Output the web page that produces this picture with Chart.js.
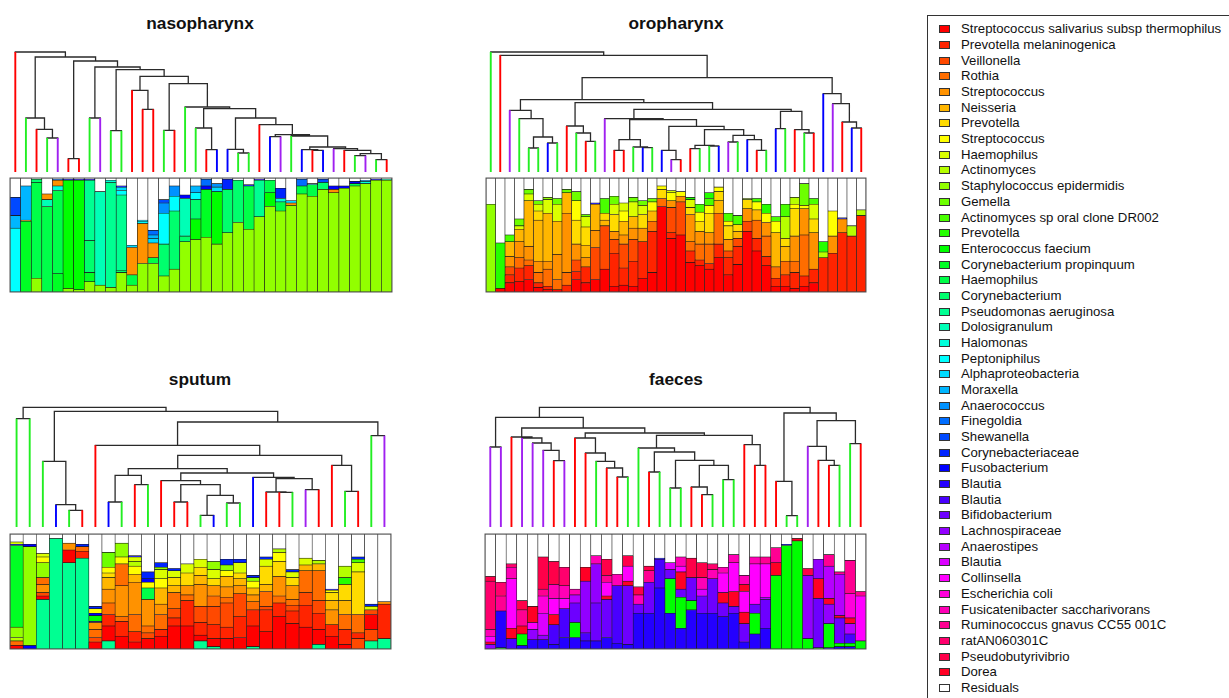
<!DOCTYPE html>
<html>
<head>
<meta charset="utf-8">
<script src="https://cdn.jsdelivr.net/npm/chart.js@4.4.1/dist/chart.umd.min.js"></script>
<style>
  body { margin: 0; background: #fff; width: 1229px; height: 698px; overflow: hidden; position: relative;
         font-family: "Liberation Sans", Arial, sans-serif; color: #111; }
  .title { position: absolute; font-weight: bold; font-size: 17.3px; transform: translate(-50%, -50%); white-space: nowrap; }
  #legend { position: absolute; left: 927px; top: 15px; width: 420px; height: 720px; border: 1px solid #333; box-sizing: border-box; }
  .item { position: absolute; left: 0; height: 16px; line-height: 16px; font-size: 13.2px; white-space: nowrap; }
  .sw { position: absolute; left: 11px; top: 4px; width: 11px; height: 8px; border: 1px solid #333; box-sizing: border-box; }
  .lab { position: absolute; left: 33px; top: 0; }
</style>
</head>
<body>
<div class="title" style="left:200px;top:23px">nasopharynx</div>
<div class="title" style="left:676px;top:23px">oropharynx</div>
<div class="title" style="left:200px;top:379px">sputum</div>
<div class="title" style="left:676px;top:379px">faeces</div>
<div id="legend"></div>

<script>
// --- TAXA (legend order, rainbow palette) ---
const taxa = [
  "Streptococcus salivarius subsp thermophilus", "Prevotella melaninogenica", "Veillonella", "Rothia",
  "Streptococcus", "Neisseria", "Prevotella", "Streptococcus", "Haemophilus", "Actinomyces",
  "Staphylococcus epidermidis", "Gemella", "Actinomyces sp oral clone DR002", "Prevotella",
  "Enterococcus faecium", "Corynebacterium propinquum", "Haemophilus", "Corynebacterium",
  "Pseudomonas aeruginosa", "Dolosigranulum", "Halomonas", "Peptoniphilus", "Alphaproteobacteria",
  "Moraxella", "Anaerococcus", "Finegoldia", "Shewanella", "Corynebacteriaceae", "Fusobacterium",
  "Blautia", "Blautia", "Bifidobacterium", "Lachnospiraceae", "Anaerostipes", "Blautia", "Collinsella",
  "Escherichia coli", "Fusicatenibacter saccharivorans", "Ruminococcus gnavus CC55 001C",
  "ratAN060301C", "Pseudobutyrivibrio", "Dorea"
];
const residualLabel = "Residuals";

// leaf colour groups
const groupColors = { r: '#FF0000', g: '#22EE22', p: '#A020F0', b: '#0000FF' };

// =========================================================
// NASOPHARYNX
// =========================================================
const nasoLeaves = "rgrgprrgpggrrrgrggrbbggrbpgbrbprgpgr";
// hclust style merges: negative = leaf (plot order), positive = earlier merge, then height
const nasoMerges = [
  [-4,-5,102], [-3,1,128], [-2,2,162], [-6,-7,40], [-8,-9,162], [-10,-11,124], [-13,-14,188],
  [-12,7,245], [-15,-16,125], [-19,-20,67], [-18,10,132], [-22,-23,57], [-21,12,68], [-25,-26,106],
  [-29,-30,65], [-28,15,67], [-33,-34,49], [-35,-36,37], [17,18,55], [-32,19,65], [-31,20,70],
  [16,21,75], [-27,22,108], [14,23,112], [-24,24,142], [13,25,162], [11,26,190], [-17,27,195],
  [9,28,265], [8,29,287], [6,30,307], [5,31,315], [4,32,333], [3,33,345], [-1,34,360]
];
// each bar: taxon:percent, bottom to top
const nasoBars = [
  "21:56 23:11 26:16", "15:62 4:1 23:30", "10:12 16:84 17:3", "16:75 19:6 4:5",
  "15:16 16:73 20:4 4:5 25:1", "10:3 14:95 28:1", "10:2 14:96 29:1", "10:9 15:8 17:28 18:53 29:1",
  "10:6 19:82", "10:4 18:92 20:2", "10:17 17:2 18:66 21:4 22:3 28:1", "10:6 16:9 4:24 22:2",
  "10:25 4:35 21:2 22:1", "10:25 16:5 4:13 22:4 23:3 25:4", "10:14 17:28 21:27 24:9 26:3",
  "10:20 17:51 21:13 24:9", "10:44 17:5 19:33 28:3", "10:46 14:18 17:17 21:6 23:6",
  "10:48 15:42 28:3 25:6", "10:42 14:46 22:4 24:3", "10:52 17:38 27:9", "10:61 17:37",
  "10:55 16:38 28:1", "10:66 18:32 29:1", "10:75 14:12 16:11", "10:71 16:8 20:3 27:9",
  "10:76 4:2 22:2", "10:86 16:7 25:6", "10:84 16:10 22:1", "10:90 17:6 26:3", "10:87 4:3 28:3",
  "10:91 28:2", "10:93 16:2 28:2", "10:95 20:2 24:1", "10:98 28:1", "10:98 19:1"
];

// =========================================================
// OROPHARYNX
// =========================================================
const oroLeaves = "grpgggbgrgrgprrgbgbprrggbpgbrgbgrgrbprbr";
const oroMerges = [
  [-5,-6,72], [-7,-8,87], [1,2,105], [-4,3,160], [-3,4,185], [-11,-12,92], [-10,6,117], [-9,7,138],
  [-14,-15,65], [-17,-18,73], [-16,10,75], [9,11,97], [-20,-21,37], [-19,13,65], [-22,-23,70],
  [-24,-25,78], [15,16,80], [-26,-27,90], [-29,-30,65], [-28,19,97], [18,20,110], [17,21,127],
  [14,22,137], [12,23,157], [-13,24,160], [-31,-32,130], [-34,-35,117], [-33,27,127], [26,28,182],
  [25,29,188], [8,30,208], [5,31,217], [-39,-40,132], [-38,33,150], [-37,34,205], [-36,35,235],
  [32,36,283], [-2,37,350], [-1,38,360]
];
const oroBars = [
  "10:77", "0:3 13:40", "0:8 1:7 2:7 4:9 5:13 12:6", "0:9 1:12 3:9 4:14 5:11 8:3 11:6",
  "0:11 1:12 3:5 4:12 5:40 8:6 11:4", "0:4 1:4 3:9 4:10 5:36 6:8 8:6 11:3",
  "0:2 1:3 3:15 4:7 5:42 8:12 10:2", "0:2 3:9 4:22 5:29 8:15 11:5", "1:6 3:11 4:52 5:18 11:3",
  "0:11 1:7 2:10 4:14 6:21 7:17 11:8", "0:8 1:14 4:8 5:11 6:16 8:9 11:2", "0:11 2:28 4:15 5:23 28:1",
  "0:20 2:38 5:5 6:6 12:13", "0:5 1:29 2:12 4:7 6:15 8:9 11:7", "0:6 1:15 2:21 4:8 5:12 7:9 8:7",
  "0:5 1:22 2:19 4:10 5:10 8:13 11:4", "0:12 1:32 4:12 6:12 8:8 11:4", "0:17 1:36 3:9 5:9 7:8 11:3",
  "0:75 3:7 6:8 7:3", "0:47 1:5 2:22 4:6 7:7 8:2", "0:50 2:29 4:5 7:4",
  "0:26 1:10 3:8 4:24 6:6 8:7 13:2", "0:23 1:5 3:14 4:11 6:9 7:8 12:7",
  "0:20 1:5 3:17 4:10 6:17 7:7 12:6 13:5", "0:30 1:12 3:27 5:11 6:8 7:4",
  "0:15 1:15 2:6 4:10 6:12 7:4 12:7", "0:24 1:16 2:7 5:6 6:6 12:8", "0:53 2:9 4:11 6:8 9:1",
  "0:36 1:11 3:16 5:9 7:7 12:3", "0:23 1:8 3:18 4:12 7:8 13:8", "0:5 1:7 3:10 5:30 7:10 12:4",
  "0:5 1:10 3:12 5:13 6:7 9:19 12:11", "0:3 1:14 3:10 4:22 6:24 7:4 9:6",
  "0:5 1:9 3:36 4:23 7:3 11:19", "0:8 1:12 4:32 6:12 8:13 12:5", "1:30 9:5 13:9", "1:34 4:15 7:22",
  "1:52 4:12 28:1", "1:49 9:9", "1:67 9:5"
];

// =========================================================
// SPUTUM
// =========================================================
const sputumLeaves = "gggbgrrbgrgrrrgbggbrrgprrgrgp";
const sputumMerges = [
  [-1,-2,325], [-5,-6,50], [-4,2,67], [-3,3,197], [-8,-9,75], [-10,-11,127], [5,6,155], [-13,-14,75],
  [-15,-16,35], [-17,-18,72], [9,10,95], [8,11,127], [-12,12,139], [-21,-22,104], [-20,14,105],
  [-23,-24,112], [15,16,145], [-19,17,149], [13,18,162], [7,19,175], [-26,-27,107], [-25,21,185],
  [20,22,215], [-7,23,245], [-28,-29,274], [24,25,315], [4,26,347], [1,27,359]
];
const sputumBars = [
  "0:3 3:4 9:3 10:9 15:71 28:1 8:2", "28:3 10:86 28:2", "18:43 0:3 2:3 4:7 3:6 10:13 7:5 8:3",
  "18:96", "18:75 0:11 4:6", "18:79 1:6 3:4 27:2", "0:6 2:4 3:7 4:6 28:1 14:5 28:2 7:4 27:2",
  "18:7 0:13 1:10 3:10 4:12 5:10 6:4 7:5 11:13", "0:11 1:13 3:4 4:27 3:19 7:6 10:12",
  "0:6 1:9 3:15 4:28 5:7 7:7 9:4 8:4 28:1", "0:9 2:5 3:6 4:23 16:10 7:5 28:3 27:6",
  "0:11 1:6 3:13 4:9 5:14 7:8 8:8 10:2 27:4", "0:20 1:7 2:8 3:14 5:6 6:7 8:6 27:2",
  "0:20 1:22 3:5 4:8 6:11 8:8", "18:7 0:5 1:11 2:14 4:19 5:8 6:7 8:7",
  "18:2 0:7 1:12 2:16 3:9 4:9 6:6 8:8 10:7", "0:9 1:10 2:21 3:5 4:9 5:9 7:5 10:5 27:5",
  "0:10 1:18 2:20 4:7 5:6 6:5 8:9 27:3", "18:2 0:18 1:14 3:7 4:6 5:6 7:6 10:3 27:2",
  "0:15 1:19 2:3 3:13 5:6 6:16 8:6 27:2", "0:28 1:12 3:6 4:17 6:13 7:8 9:3",
  "0:22 1:11 2:5 3:5 4:12 6:7 8:5 27:2", "0:19 1:19 2:11 3:19 5:5 8:6",
  "18:4 0:13 1:14 2:11 3:26 5:6 9:3", "0:11 1:10 4:13 5:8 6:7 7:2 28:1",
  "0:4 1:13 3:13 5:12 6:14 13:6 9:10", "2:9 1:5 3:16 6:37 8:8 12:3 27:2",
  "18:7 2:10 0:13 2:4 8:3 27:2", "18:9 1:30 4:2"
];

// =========================================================
// FAECES
// =========================================================
const faecesLeaves = "pprppprprrgrrggrgggrrgggrrrrggprrggr";
const faecesMerges = [
  [-1,-2,240], [-7,-8,199], [-6,2,230], [-5,3,252], [-4,4,267], [-3,5,270], [-13,-14,150],
  [-12,7,177], [-11,8,197], [-10,9,222], [-9,10,267], [-16,-17,165], [-18,-19,117], [-21,-22,97],
  [-20,14,120], [-23,-24,142], [15,16,185], [13,17,200], [12,18,225], [-15,19,237], [-26,-27,185],
  [-25,21,247], [20,22,275], [11,23,282], [6,24,297], [1,25,329], [-29,-30,34], [-28,27,137],
  [-33,-34,185], [-32,29,200], [-31,30,242], [-35,-36,250], [31,32,319], [28,33,342], [26,34,359]
];
const faecesBars = [
  "32:4 41:2 35:5 37:6 39:42 40:4", "14:1 29:32 38:13 39:12", "30:9 41:9 35:43 37:10 39:3",
  "29:3 14:10 41:7 38:14 40:8", "29:8 32:9 35:6 41:14", "29:8 32:4 34:19 36:15 38:6 40:28",
  "29:4 30:17 41:9 35:14 37:12 40:20", "29:10 30:25 35:9 37:11 39:16", "29:10 14:13 31:17 33:7 37:5",
  "29:7 30:7 32:45 41:12", "29:7 31:33 32:34 37:7", "29:10 31:33 41:3 35:12 38:6 40:14",
  "29:5 30:50 37:10", "29:4 31:51 41:4 35:13 40:9", "29:31 31:8 37:8 40:7", "29:31 31:27 38:10 40:4",
  "29:53 30:25 28:1", "29:31 14:30 31:8 34:6", "29:18 14:27 31:7 41:15 35:5 37:8",
  "29:34 14:8 31:20 40:17", "29:31 31:15 34:6 37:10 40:13", "29:31 31:30 37:8 39:5",
  "29:28 31:12 41:9 35:17 37:5", "29:31 31:6 41:13 35:25 37:7", "29:6 31:16 41:10 35:18 41:6 37:8",
  "29:13 14:18 31:8 35:35 37:6", "29:18 31:25 33:2 35:29 38:6", "14:64 41:11 38:13", "14:90 28:1",
  "14:94 41:2", "14:9 32:55 40:6", "14:1 31:43 41:17 32:17", "29:1 14:21 32:17 41:5 33:28 38:10",
  "29:2 14:3 31:22 41:2 33:36 38:2", "29:2 14:3 30:8 33:9 41:5 36:21 38:29", "14:7 35:39 38:4"
];

// =========================================================
// HELPERS
// =========================================================
const PAD = 4;
const MAX_H = 363;   // dendrogram height range
const DENDRO_PX = 121;

function taxonColor(i) {
  return `hsl(${(i * 360 / taxa.length).toFixed(2)}, 100%, 50%)`;
}

function makeCanvas(left, top, w, h) {
  const c = document.createElement('canvas');
  c.width = w; c.height = h;
  c.style.cssText = `position:absolute;left:${left}px;top:${top}px;width:${w}px;height:${h}px`;
  document.body.appendChild(c);
  return c;
}

const baseOptions = {
  responsive: false, animation: false, events: [],
  layout: { padding: PAD },
  plugins: { legend: { display: false }, tooltip: { enabled: false }, title: { display: false } }
};

// turn merges into line segments (null points split the segments)
function dendroDatasets(leaves, merges) {
  const xs = [], hs = [];
  const black = [];
  const colored = { r: [], g: [], p: [], b: [] };
  const ref = r => r < 0 ? { x: -r, h: 0, leaf: -r } : { x: xs[r - 1], h: hs[r - 1] };
  merges.forEach(([a, b, h]) => {
    const A = ref(a), B = ref(b);
    [A, B].forEach(c => {
      const seg = [{ x: c.x, y: c.h }, { x: c.x, y: h }, { x: null, y: null }];
      if (c.leaf) colored[leaves[c.leaf - 1]].push(...seg);
      else black.push(...seg);
    });
    black.push({ x: A.x, y: h }, { x: B.x, y: h }, { x: null, y: null });
    xs.push((A.x + B.x) / 2);
    hs.push(h);
  });
  const common = { showLine: true, pointRadius: 0, fill: false, clip: false, spanGaps: false, tension: 0 };
  const ds = Object.keys(colored).map(k => ({ ...common, data: colored[k], borderColor: groupColors[k], borderWidth: 1.9 }));
  ds.push({ ...common, data: black, borderColor: '#2a2a2a', borderWidth: 1.3, borderCapStyle: 'square' });
  return ds;
}

function barDatasets(bars) {
  const parsed = bars.map(s => s.trim().split(/\s+/).map(t => t.split(':').map(Number)));
  const depth = Math.max(...parsed.map(p => p.length));
  const common = { borderColor: '#1a1a1a', borderWidth: 0.6, borderSkipped: false,
                   categoryPercentage: 1.0, barPercentage: 1.0 };
  const ds = [];
  for (let k = 0; k < depth; k++) {
    ds.push({
      ...common,
      data: parsed.map(p => p[k] ? p[k][1] : null),
      backgroundColor: parsed.map(p => p[k] ? taxonColor(p[k][0]) : 'rgba(0,0,0,0)')
    });
  }
  ds.push({ ...common, label: residualLabel, backgroundColor: '#ffffff',
            data: parsed.map(p => Math.max(0, 100 - p.reduce((s, q) => s + q[1], 0))) });
  return ds;
}

const framePlugin = {
  id: 'frame',
  afterDatasetsDraw(chart) {
    const { ctx, chartArea: a } = chart;
    ctx.save();
    ctx.strokeStyle = '#555';
    ctx.lineWidth = 1;
    ctx.strokeRect(a.left, a.top, a.right - a.left, a.bottom - a.top);
    ctx.restore();
  }
};

function drawPanel(leaves, merges, bars, x0, x1, base, barTop, barBot) {
  const n = leaves.length;
  const w = x1 - x0;
  // dendrogram
  const dc = makeCanvas(x0 - PAD, base - DENDRO_PX - PAD, w + 2 * PAD, DENDRO_PX + 2 * PAD);
  new Chart(dc, {
    type: 'scatter',
    data: { datasets: dendroDatasets(leaves, merges) },
    options: { ...baseOptions,
      scales: { x: { type: 'linear', min: 0.5, max: n + 0.5, display: false },
                y: { type: 'linear', min: 0, max: MAX_H, display: false } } }
  });
  // stacked composition bars
  const bc = makeCanvas(x0 - PAD, barTop - PAD, w + 2 * PAD, barBot - barTop + 2 * PAD);
  new Chart(bc, {
    type: 'bar',
    data: { labels: bars.map((_, i) => String(i + 1)), datasets: barDatasets(bars) },
    options: { ...baseOptions,
      scales: { x: { stacked: true, display: false },
                y: { stacked: true, min: 0, max: 100, display: false } } },
    plugins: [framePlugin]
  });
}

drawPanel(nasoLeaves, nasoMerges, nasoBars, 10, 392, 172, 178, 292);
drawPanel(oroLeaves, oroMerges, oroBars, 486, 866, 172, 178, 292);
drawPanel(sputumLeaves, sputumMerges, sputumBars, 10, 391, 527, 534, 649);
drawPanel(faecesLeaves, faecesMerges, faecesBars, 485, 866, 527, 534, 649);

// legend
const legend = document.getElementById('legend');
taxa.concat([residualLabel]).forEach((name, k) => {
  const item = document.createElement('div');
  item.className = 'item';
  item.style.top = (29.3 + k * 15.68 - 8 - 16).toFixed(1) + 'px';
  const sw = document.createElement('span');
  sw.className = 'sw';
  sw.style.background = k < taxa.length ? taxonColor(k) : '#fff';
  const lab = document.createElement('span');
  lab.className = 'lab';
  lab.textContent = name;
  item.appendChild(sw);
  item.appendChild(lab);
  legend.appendChild(item);
});
</script>
</body>
</html>
